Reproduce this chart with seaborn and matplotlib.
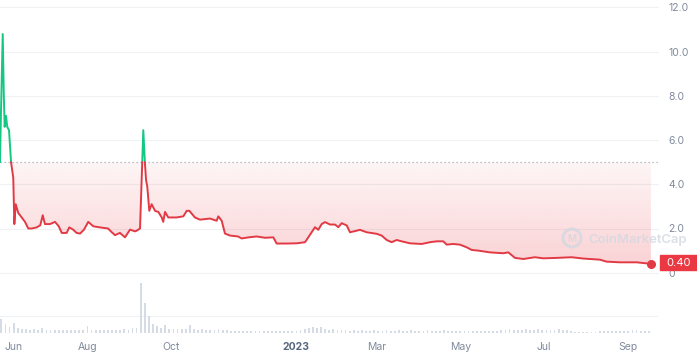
import numpy as np
import pandas as pd
import matplotlib
matplotlib.use("Agg")
import matplotlib.pyplot as plt
import matplotlib.dates as mdates
from matplotlib.patches import Rectangle, Circle
import seaborn as sns

# ---------------- data ----------------
START = pd.Timestamp("2022-05-29")

price_days = [0.0, 0.8, 2.0, 2.8, 3.4, 4.4, 5.3, 6.6, 8.1, 9.7, 10.5, 11.5, 13.4, 15.9,
              18.3, 20.7, 23.2, 26.9, 29.5, 31.3, 32.9, 36.6, 40.3, 43.0, 45.2, 48.8,
              50.7, 53.5, 56.1, 58.6, 61.5, 64.6, 68.3, 73.2, 79.1, 81.5, 84.2, 87.8,
              91.5, 95.2, 98.8, 100.0, 102.5, 103.7, 104.9, 106.1, 106.9, 107.8, 109.3,
              111.0, 113.5, 115.9, 118.4, 119.5, 120.8, 123.2, 129.3, 134.2, 136.7,
              138.6, 142.7, 146.4, 153.7, 158.6, 159.8, 162.3, 164.7, 168.4, 174.2,
              176.9, 182.0, 187.9, 194.0, 200.1, 202.5, 209.9, 217.2, 223.3, 225.7,
              230.6, 233.0, 235.5, 237.9, 241.6, 245.2, 247.7, 250.1, 253.8, 256.2,
              261.1, 263.5, 268.4, 275.7, 279.4, 283.1, 286.7, 290.4, 294.0, 300.1,
              308.7, 314.8, 319.7, 324.5, 327.0, 331.8, 336.7, 341.6, 345.3, 350.1,
              358.7, 368.4, 372.1, 377.0, 383.1, 391.6, 397.7, 407.5, 418.5, 427.0,
              439.2, 444.1, 453.8, 466.1, 476.5]
price_values = [5.0, 7.5, 10.8, 8.0, 6.6, 7.1, 6.6, 6.45, 5.0, 4.3, 2.2, 3.1, 2.7, 2.5,
                2.3, 2.0, 2.0, 2.05, 2.15, 2.6, 2.2, 2.2, 2.3, 2.1, 1.8, 1.8,
                2.05, 1.95, 1.8, 1.77, 1.95, 2.3, 2.1, 2.05, 2.0, 1.85, 1.7, 1.8,
                1.6, 1.95, 1.87, 1.9, 2.0, 4.2, 6.45, 4.95, 4.2, 3.9, 2.8,
                3.1, 2.8, 2.75, 2.5, 2.3, 2.75, 2.5, 2.5, 2.55, 2.8,
                2.8, 2.5, 2.4, 2.45, 2.35, 2.55, 2.35, 1.77, 1.68, 1.64,
                1.55, 1.6, 1.64, 1.58, 1.6, 1.32, 1.32, 1.33, 1.38, 1.6,
                2.06, 1.94, 2.2, 2.29, 2.18, 2.18, 2.06, 2.24, 2.14, 1.83,
                1.9, 1.94, 1.83, 1.76, 1.68, 1.48, 1.38, 1.48, 1.42, 1.33,
                1.3, 1.38, 1.42, 1.42, 1.27, 1.3, 1.27, 1.15, 1.03, 1.0,
                0.92, 0.88, 0.92, 0.67, 0.62, 0.7, 0.65, 0.67, 0.7, 0.64,
                0.59, 0.5, 0.47, 0.47, 0.40]

vol_days = list(range(1, 478, 3))
vol_values = [14, 9, 6, 10, 5, 4, 4, 3, 4, 3,
              5, 3, 3, 3, 3, 3, 3, 3, 3, 3,
              3, 7, 3, 3, 3, 3, 3, 3, 3, 3,
              4, 3, 5, 5, 50, 30, 17, 9, 7, 5,
              8, 4, 4, 4, 4, 4, 8, 4, 3, 4,
              3, 3, 3, 4, 3, 3, 2, 2, 2, 2,
              2, 2, 2, 2, 2, 2, 2, 2, 2, 2,
              2, 2, 2, 3, 4, 5, 6, 5, 6, 4,
              3, 4, 3, 3, 3, 2, 3, 2, 3, 2,
              2, 3, 2, 2, 3, 2, 2, 3, 2, 2,
              3, 2, 2, 2, 3, 2, 2, 2, 3, 2,
              2, 2, 2, 2, 2, 2, 2, 2, 2, 2,
              2, 2, 3, 3, 4, 3, 3, 3, 4, 3,
              3, 4, 3, 3, 3, 3, 4, 3, 3, 2,
              1, 1, 1, 1, 1, 1, 2, 2, 2, 2,
              2, 2, 2, 2, 3, 3, 2, 2, 2]

y_ticks = [0, 2, 4, 6, 8, 10, 12]
y_tick_labels = ["0", "2.0", "4.0", "6.0", "8.0", "10.0", "12.0"]
x_tick_dates = ["2022-06-01", "2022-08-01", "2022-10-01", "2023-01-01",
                "2023-03-01", "2023-05-01", "2023-07-01", "2023-09-01"]
x_tick_labels = ["Jun", "Aug", "Oct", "2023", "Mar", "May", "Jul", "Sep"]
last_label = "0.40"
baseline = price_values[0]

# ---------------- style ----------------
sns.set_theme(style="white")
plt.rcParams["font.family"] = ["Inter", "DejaVu Sans"]

GREEN = "#16c784"
RED = "#e23a45"
GRAY = "#808a9d"
GRID = "#eff2f5"

W, H = 697, 356
fig = plt.figure(figsize=(W / 100, H / 100), dpi=100)


def fx(px):
    return px / W


def fy(py):
    return 1 - py / H


PLOT_R = 658
ZERO_Y = 272.7
PX_PER_UNIT = 22.1
PX_PER_DAY = 1.366
VOL_BOTTOM = 333

ax = fig.add_axes([0, fy(ZERO_Y), fx(PLOT_R), ZERO_Y / H])
axv = fig.add_axes([0, fy(VOL_BOTTOM), fx(PLOT_R), (VOL_BOTTOM - ZERO_Y) / H], sharex=ax)

# ---------------- price line split at baseline ----------------
xs = np.array(price_days, float)
ys = np.array(price_values, float)
dx, dy = [xs[0]], [ys[0]]
for i in range(1, len(xs)):
    x0, y0, x1, y1 = xs[i - 1], ys[i - 1], xs[i], ys[i]
    if (y0 - baseline) * (y1 - baseline) < 0:
        t = (baseline - y0) / (y1 - y0)
        dx.append(x0 + t * (x1 - x0))
        dy.append(baseline)
    dx.append(x1)
    dy.append(y1)
dx = np.array(dx)
dy = np.array(dy)

rows = []
cur = None
run = -1
for i in range(len(dx) - 1):
    s = "up" if (dy[i] + dy[i + 1]) / 2 > baseline else "down"
    if s != cur:
        run += 1
        cur = s
        rows.append((dx[i], dy[i], s, run))
    rows.append((dx[i + 1], dy[i + 1], s, run))
df = pd.DataFrame(rows, columns=["day", "price", "side", "run"])
df["date"] = START + pd.to_timedelta(df["day"], unit="D")

sns.lineplot(data=df, x="date", y="price", hue="side", units="run", estimator=None,
             sort=False, palette={"up": GREEN, "down": RED}, linewidth=1.4,
             legend=False, ax=ax, zorder=4)

# gradient fill between baseline and line (below baseline)
xnum = mdates.date2num(START + pd.to_timedelta(dx, unit="D"))
ylow = np.minimum(dy, baseline)
poly = ax.fill_between(xnum, ylow, baseline, color="none", linewidth=0)
alpha = np.linspace(0.24, 0.05, 256)
rgba = np.zeros((256, 1, 4))
rgba[..., :3] = matplotlib.colors.to_rgb("#ea3943")
rgba[:, 0, 3] = alpha
im = ax.imshow(rgba, extent=[xnum[0], xnum[-1], 0, baseline], origin="lower",
               aspect="auto", zorder=1, interpolation="bilinear")
im.set_clip_path(poly.get_paths()[0], transform=ax.transData)

# baseline dotted
ax.axhline(baseline, color="#a3abba", linestyle=(0, (1, 2.2)), linewidth=0.9, zorder=3)

# end point
last_x = mdates.date2num(START + pd.Timedelta(days=price_days[-1]))
ax.plot([last_x], [price_values[-1]], "o", color=RED, markersize=5.5, zorder=6, clip_on=False)

# limits
x_lo = mdates.date2num(START)
x_hi = x_lo + PLOT_R / PX_PER_DAY
ax.set_xlim(x_lo, x_hi)
ax.set_ylim(0, ZERO_Y / PX_PER_UNIT)

# axes styling
for a in (ax, axv):
    for sp in a.spines.values():
        sp.set_visible(False)
    a.set_facecolor("none")
ax.set_xlabel("")
ax.set_ylabel("")
ax.tick_params(axis="x", bottom=False, labelbottom=False)
ax.yaxis.tick_right()
ax.set_yticks(y_ticks)
ax.set_yticklabels(y_tick_labels)
ax.tick_params(axis="y", length=0, pad=7.5, labelsize=7.5, labelcolor=GRAY)
for yv in y_ticks:
    ax.axhline(yv, color=GRID, linewidth=0.8, zorder=0, clip_on=False)

# ---------------- volume ----------------
vol_x = mdates.date2num(START + pd.to_timedelta(vol_days, unit="D"))
axv.bar(vol_x, vol_values, width=1.3, color="#d6dce6", linewidth=0, align="center")
axv.set_ylim(0, VOL_BOTTOM - ZERO_Y)
axv.axhline(17, color=GRID, linewidth=0.8, zorder=0)
axv.set_yticks([])
axv.set_ylabel("")
tick_x = mdates.date2num(pd.to_datetime(x_tick_dates))
axv.set_xticks(tick_x)
axv.set_xticklabels(x_tick_labels)
axv.tick_params(axis="x", length=0, pad=6.5, labelsize=7.5, labelcolor=GRAY)
for lab in axv.get_xticklabels():
    if lab.get_text() == "2023":
        lab.set_fontweight("bold")
        lab.set_color("#58667e")
    if lab.get_text() == "Jun":
        lab.set_ha("left")
axv.set_xlim(x_lo, x_hi)

# ---------------- last price label ----------------
fig.patches.append(Rectangle((fx(660), fy(270)), fx(697) - fx(660), (270 - 255) / H,
                             transform=fig.transFigure, color="#ea3943", zorder=10))
fig.text(fx(678.5), fy(262.5), last_label, ha="center", va="center", color="white",
         fontsize=8, zorder=11)

# ---------------- watermark ----------------
fig.patches.append(Circle((5.72, (H - 238) / 100), 0.09, transform=fig.dpi_scale_trans,
                          fill=False, edgecolor="#d3d8e0", linewidth=2.2, alpha=0.8, zorder=9))
fig.text(fx(572), fy(238.5), "M", ha="center", va="center", fontsize=7, fontweight="bold",
         color="#d3d8e0", alpha=0.8, zorder=9)
fig.text(fx(588), fy(239.5), "CoinMarketCap", ha="left", va="center", fontsize=9.4,
         fontweight="semibold", color="#d3d8e0", alpha=0.8, zorder=9)

fig.savefig("out.png", dpi=100)
